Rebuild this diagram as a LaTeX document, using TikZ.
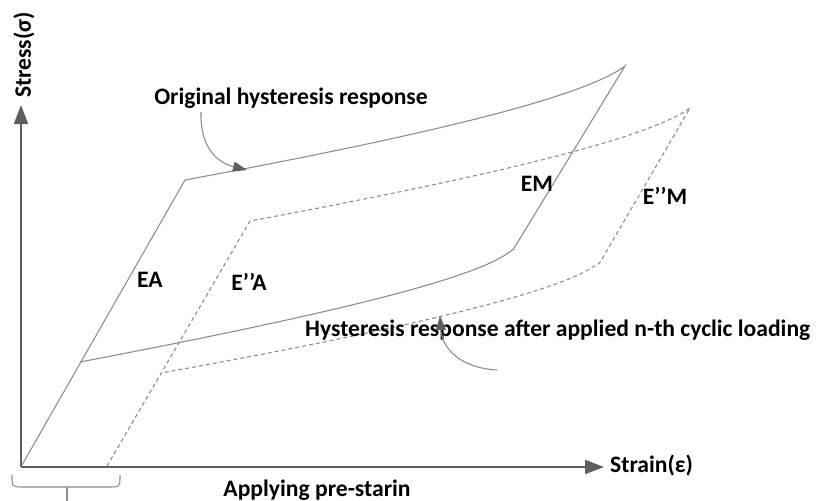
\documentclass[tikz,border=0pt]{standalone}
\usepackage{fontspec}
\setmainfont{Carlito}
\usetikzlibrary{arrows.meta}
\definecolor{curve}{HTML}{8E8E8E}
\definecolor{axis}{HTML}{5F5F5F}
\tikzset{
  lbl/.style={font=\bfseries\fontsize{23.6}{28}\selectfont, text=black, inner sep=0pt},
  loop/.style={draw=curve, line width=1.1pt},
  dloop/.style={draw=curve, line width=1.1pt, dash pattern=on 4pt off 3pt},
  axisline/.style={draw=axis, line width=2pt, -{Triangle[length=19pt,width=14pt]}},
  note/.style={draw=curve, line width=1.1pt, -{Triangle[length=14pt,width=10pt,fill=axis,color=axis]}}
}
\begin{document}
\begin{tikzpicture}[x=1pt,y=-1pt]
\useasboundingbox (0,0) rectangle (828,501);
% axes
\coordinate (O) at (21,467);
\coordinate (ytip) at (21,105);
\coordinate (xtip) at (604,467);
\draw[axisline] (O) -- (ytip);
\draw[axisline] (O) -- (xtip);
\node[lbl, rotate=90] (stress) at (24,55) {Stress(σ)};
\node[lbl, anchor=west] (strain) at (610,466) {Strain(ε)};
% original loop
\path[loop] (22,465) -- (185,180) .. controls (400,140) and (580,100) .. (625,66)
  -- (516,245) .. controls (513,250) .. (508,253)
  .. controls (468,282) and (300,320) .. (80,362);
% after n-th cycle
\path[dloop] (107,466) -- (250,221) .. controls (465,181) and (645,141) .. (690,108)
  -- (602,259) .. controls (599,264) .. (593,267)
  .. controls (550,295) and (384,333) .. (161,373);
% labels
\node[lbl] (EA) at (150,280) {EA};
\node[lbl] (EppA) at (249,282) {E’’A};
\node[lbl] (EM) at (537,184) {EM};
\node[lbl] (EppM) at (665,196) {E’’M};
\node[lbl] (orig) at (291,98) {Original hysteresis response};
\node[lbl, anchor=west] (after) at (305,330) {Hysteresis response after applied n-th cyclic loading};
\node[lbl] (pre) at (317,490) {Applying pre-starin};
% annotation arrows
\coordinate (t1) at (201,112);
\coordinate (h1) at (247,170);
\draw[note] (t1) .. controls (200,145) and (215,162) .. (h1);
\coordinate (t2) at (497,370);
\coordinate (h2) at (440,316);
\draw[note] (t2) .. controls (460,368) and (442,348) .. (h2);
% brace
\coordinate (bstem) at (67,501);
\draw[draw=curve, line width=1.1pt] (12,475) .. controls (12,487) .. (25,487) -- (108,487) .. controls (120,487) .. (120,475);
\draw[draw=curve, line width=1.1pt] (67,487) -- (bstem);
\end{tikzpicture}
\end{document}
